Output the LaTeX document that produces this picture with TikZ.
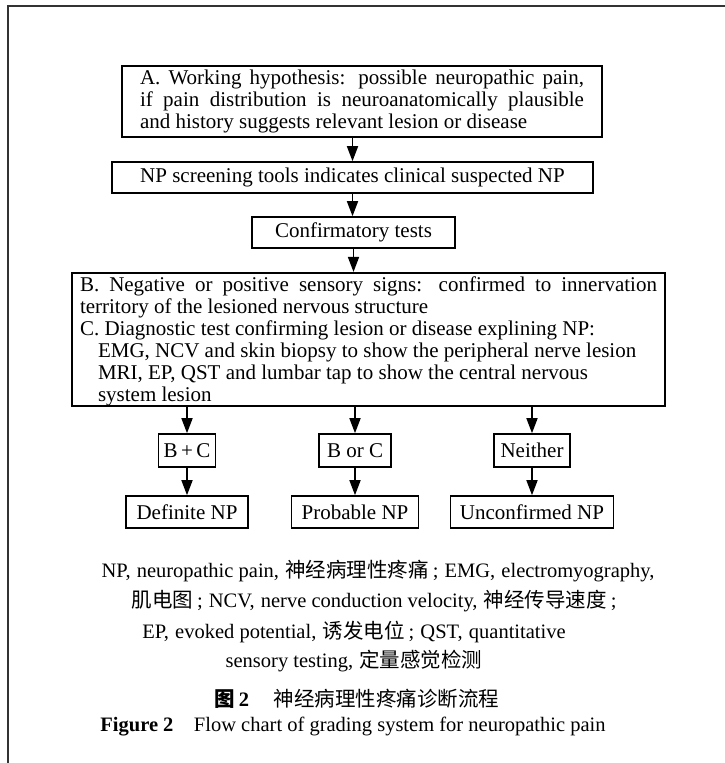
\documentclass[tikz,border=0pt]{standalone}
\usepackage{fontspec}
\setmainfont{Liberation Serif}
\newfontfamily\cjk{Noto Sans CJK SC}
\usetikzlibrary{arrows.meta}
\newcommand{\zh}[1]{{\cjk #1}}
\newcommand{\cm}{,\hspace{0.3em}}
\newcommand{\sm}{\hspace{0.2em};\hspace{0.3em}}
\tikzset{
  box/.style={draw,line width=1.6pt,inner sep=0pt,font=\fontsize{21}{22}\selectfont},
  note/.style={font=\fontsize{20.5}{22}\selectfont},
}
\begin{document}
\begin{tikzpicture}[x=1pt,y=-1pt,>={Triangle[length=15pt,width=11pt]}]
\useasboundingbox (0,0) rectangle (725,763);
\draw[line width=2pt,black!80] (725,6) -- (8,6) -- (8,763);

% main column
\node[box,minimum width=480,minimum height=71,text width=444,align=justify] (hyp) at (362,101.5)
  {A. Working hypothesis: possible neuropathic pain,\linebreak
   if pain distribution is neuroanatomically plausible\linebreak
   and history suggests relevant lesion or disease};
\node[box,minimum width=481,minimum height=31] (screen) at (352.5,177.5)
  {NP screening tools indicates clinical suspected NP};
\node[box,minimum width=203,minimum height=31] (confirm) at (353.5,232.5) {Confirmatory tests};
\node[box,minimum width=593,minimum height=133,text width=577,align=justify] (signs) at (368.5,339.5)
  {\rule{0pt}{19pt}B. Negative or positive sensory signs: confirmed to innervation\linebreak
   territory of the lesioned nervous structure\\
   C. Diagnostic test confirming lesion or disease explining NP:\\
   \hspace*{18pt}EMG, NCV and skin biopsy to show the peripheral nerve lesion\\
   \hspace*{18pt}MRI, EP, QST and lumbar tap to show the central nervous\\
   \hspace*{18pt}system lesion};

\draw[->,line width=1.6pt] (screen.north |- hyp.south) -- (screen.north);
\draw[->,line width=1.6pt] (screen.south) -- (screen.south |- confirm.north);
\draw[->,line width=1.6pt] (confirm.south) -- (confirm.south |- signs.north);

% grading
\node[box,minimum width=57,minimum height=33] (both) at (187,450.5) {B\,+\,C};
\node[box,minimum width=72,minimum height=33] (either) at (355,450.5) {B or C};
\node[box,minimum width=76,minimum height=33] (neither) at (532,450.5) {Neither};

\node[box,minimum width=122,minimum height=32] (definite) at (187,512) {Definite NP};
\node[box,minimum width=127,minimum height=32] (probable) at (355,512) {Probable NP};
\node[box,minimum width=163,minimum height=32] (unconf) at (532,512) {Unconfirmed NP};

\foreach \g/\r in {both/definite,either/probable,neither/unconf}{
  \draw[->,line width=1.6pt] (\g.north |- signs.south) -- (\g.north);
  \draw[->,line width=1.6pt] (\g.south) -- (\r.north);
}

% notes and caption
\node[note] (abbr1) at (378,571)
  {NP\cm neuropathic pain\cm\zh{神经病理性疼痛}\sm EMG\cm electromyography,};
\node[note] (abbr2) at (374,601)
  {\zh{肌电图}\sm NCV\cm nerve conduction velocity\cm\zh{神经传导速度}\sm};
\node[note] (abbr3) at (354,632)
  {EP\cm evoked potential\cm\zh{诱发电位}\sm QST\cm quantitative};
\node[note] (abbr4) at (354,661)
  {sensory testing\cm\zh{定量感觉检测}};
\node[note] (capzh) at (357,699)
  {{\bfseries\zh{图}\,2}\hspace{1.2em}\zh{神经病理性疼痛诊断流程}};
\node[note] (capen) at (353,727)
  {\textbf{Figure 2}\hspace{1em}Flow chart of grading system for neuropathic pain};
\end{tikzpicture}
\end{document}
